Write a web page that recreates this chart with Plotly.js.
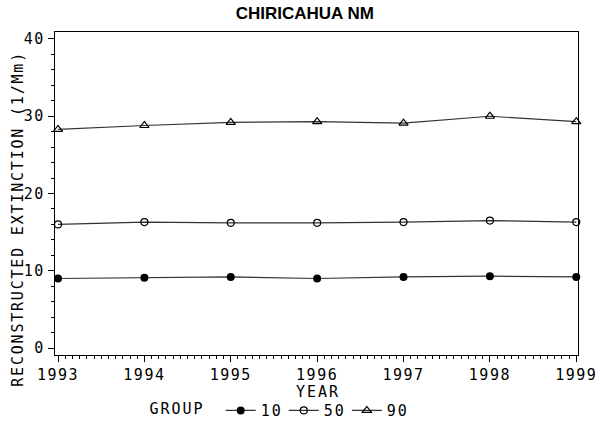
<!DOCTYPE html>
<html>
<head>
<meta charset="utf-8">
<script src="https://cdn.plot.ly/plotly-3.0.1.min.js"></script>
<style>
  body { margin: 0; background: #fff; }
  #chart { width: 600px; height: 430px; }
  /* the original uses a widely spaced condensed font */
  #chart .annotation-text { letter-spacing: 2px; }
  #chart .ytitle-ann .annotation-text { letter-spacing: 1.8px; }
  #chart .xtick text, #chart .ytick text { letter-spacing: 1.5px; }
  #chart .legendtext, #chart .legendtitletext { letter-spacing: 2px; }
</style>
</head>
<body>
<div id="chart"></div>
<script>
var years = [1993, 1994, 1995, 1996, 1997, 1998, 1999];
var group10 = [9.0, 9.1, 9.2, 9.0, 9.2, 9.3, 9.2];
var group50 = [16.0, 16.3, 16.2, 16.2, 16.3, 16.5, 16.3];
var group90 = [28.3, 28.8, 29.2, 29.3, 29.1, 30.0, 29.3];
var groupNames = ['10', '50', '90'];

var FONT = 'DejaVu Sans Mono, monospace';

function drawChart() {
    var LOC = document.getElementById('chart');

    var trace1 = {
        x: years,
        y: group10,
        name: groupNames[0],
        type: 'scatter',
        mode: 'lines+markers',
        line: {color: '#333', width: 1.2},
        marker: {symbol: 'circle', size: 8, color: '#000'},
        cliponaxis: false
    };

    var trace2 = {
        x: years,
        y: group50,
        name: groupNames[1],
        type: 'scatter',
        mode: 'lines+markers',
        line: {color: '#333', width: 1.2},
        marker: {symbol: 'circle-open', size: 7, color: '#000', line: {width: 1.2}},
        cliponaxis: false
    };

    var trace3 = {
        x: years,
        y: group90,
        name: groupNames[2],
        type: 'scatter',
        mode: 'lines+markers',
        line: {color: '#333', width: 1.2},
        marker: {symbol: 'triangle-up-open', size: 8, color: '#000', line: {width: 1.2}},
        cliponaxis: false
    };

    var data = [trace1, trace2, trace3];

    var layout = {
        width: 600,
        height: 430,
        margin: {l: 55, r: 22, t: 32, b: 75, autoexpand: false},
        paper_bgcolor: '#fff',
        plot_bgcolor: '#fff',
        font: {family: FONT, color: '#000', size: 15},
        title: {
            text: '<b>CHIRICAHUA NM</b>',
            font: {family: 'Liberation Sans, Arial, sans-serif', size: 17, color: '#000'},
            x: 0.508, xanchor: 'center', y: 0.97, yanchor: 'middle'
        },
        xaxis: {
            range: [1992.965, 1999.02],
            tickvals: years,
            ticktext: years.map(String),
            ticks: 'outside', ticklen: 6, tickcolor: '#000', tickwidth: 1,
            minor: {dtick: 1 / 12, tick0: 1993, ticks: 'outside', ticklen: 3, tickcolor: '#000', showgrid: false},
            showgrid: false, zeroline: false,
            showline: true, linecolor: '#000', linewidth: 1.2, mirror: true,
            tickfont: {family: FONT, size: 15},
            automargin: false
        },
        yaxis: {
            range: [-0.9, 40.9],
            tickvals: [0, 10, 20, 30, 40],
            ticks: 'outside', ticklen: 6, tickcolor: '#000', tickwidth: 1,
            minor: {dtick: 2, tick0: 0, ticks: 'outside', ticklen: 3, tickcolor: '#000', showgrid: false},
            showgrid: false, zeroline: false,
            showline: true, linecolor: '#000', linewidth: 1.2, mirror: true,
            tickfont: {family: FONT, size: 15},
            automargin: false
        },
        // axis titles placed as in the original (the y title sits below centre)
        annotations: [
            {
                text: 'YEAR', xref: 'paper', yref: 'paper',
                x: 0.503, y: -0.115, xanchor: 'center', yanchor: 'middle',
                showarrow: false, font: {family: FONT, size: 15}
            },
            {
                text: 'RECONSTRUCTED EXTINCTION (1/Mm)', xref: 'paper', yref: 'paper',
                x: -0.071, y: 0.421, xanchor: 'center', yanchor: 'middle',
                textangle: -90, showarrow: false, font: {family: FONT, size: 15}
            }
        ],
        showlegend: true,
        legend: {
            orientation: 'h',
            x: 0.465, xanchor: 'center',
            xref: 'container', yref: 'container',
            y: 0.045, yanchor: 'middle',
            title: {text: 'GROUP  ', side: 'left', font: {family: FONT, size: 15}},
            font: {family: FONT, size: 15},
            tracegroupgap: 0
        }
    };

    Plotly.newPlot(LOC, data, layout, {displayModeBar: false, staticPlot: true}).then(function () {
        var anns = LOC.querySelectorAll('.annotation');
        if (anns.length > 1) anns[1].classList.add('ytitle-ann');
    });
}

drawChart();
</script>
</body>
</html>
